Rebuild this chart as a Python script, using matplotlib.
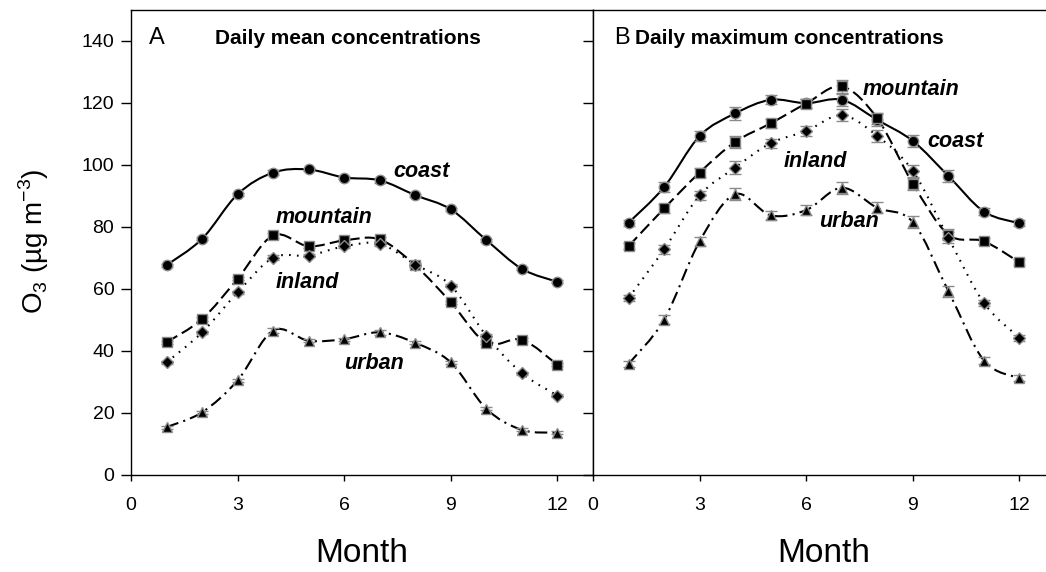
import numpy as np
import matplotlib
matplotlib.use('Agg')
import matplotlib.pyplot as plt
from matplotlib.path import Path
from matplotlib.patches import PathPatch

plt.rcParams['font.family'] = ['Liberation Sans', 'DejaVu Sans']
plt.rcParams['mathtext.fontset'] = 'custom'
plt.rcParams['mathtext.rm'] = 'Liberation Sans'

months = [1, 2, 3, 4, 5, 6, 7, 8, 9, 10, 11, 12]

# Panel A: daily mean concentrations
mean_coast = [67.6, 76.1, 90.5, 97.5, 98.5, 95.9, 95.0, 90.2, 85.6, 75.7, 66.4, 62.2]
mean_mountain = [42.7, 50.2, 63.2, 77.2, 73.7, 75.6, 75.9, 67.5, 55.6, 42.5, 43.5, 35.4]
mean_inland = [36.2, 45.9, 58.8, 70.0, 70.7, 73.7, 74.5, 67.8, 61.0, 44.8, 32.7, 25.5]
mean_urban = [15.3, 20.1, 30.4, 46.5, 43.2, 43.7, 45.9, 42.5, 36.2, 21.2, 14.4, 13.5]
mean_err = [0.5, 0.5, 0.5, 0.8, 0.5, 0.5, 0.8, 0.5, 0.5, 0.5, 0.5, 0.5]

# Panel B: daily maximum concentrations
max_coast = [81.3, 92.8, 109.3, 116.6, 121.0, 119.9, 121.0, 114.5, 107.7, 96.4, 84.9, 81.1]
max_mountain = [73.7, 85.9, 97.5, 107.4, 113.4, 119.8, 125.3, 115.0, 93.9, 77.5, 75.3, 68.5]
max_inland = [57.0, 72.7, 90.1, 99.1, 107.0, 110.9, 116.0, 109.3, 98.0, 76.4, 55.4, 44.1]
max_urban = [35.7, 50.0, 75.3, 90.5, 83.7, 85.4, 92.6, 86.1, 81.5, 59.2, 36.8, 31.1]
max_err = [1.0, 1.5, 1.5, 2.0, 1.5, 1.5, 2.0, 1.8, 2.0, 1.8, 1.0, 1.0]

series_names = ['coast', 'mountain', 'inland', 'urban']
x_ticks = [0, 3, 6, 9, 12]
y_ticks = [0, 20, 40, 60, 80, 100, 120, 140]

styles = {
    'coast': dict(marker='o', ms=7.5, ls='solid'),
    'mountain': dict(marker='s', ms=6.5, ls=(0, (6, 2.5))),
    'inland': dict(marker='D', ms=6.5, ls=(0, (0.8, 3.0))),
    'urban': dict(marker='^', ms=7.5, ls=(0, (6, 2.5, 1, 2.5))),
}


def smooth_path(x, y):
    pts = np.column_stack([x, y]).astype(float)
    ext = np.vstack([pts[0], pts, pts[-1]])
    verts = [tuple(pts[0])]
    codes = [Path.MOVETO]
    for i in range(len(pts) - 1):
        p0, p1, p2, p3 = ext[i], ext[i + 1], ext[i + 2], ext[i + 3]
        c1 = p1 + (p2 - p0) / 6.0
        c2 = p2 - (p3 - p1) / 6.0
        verts += [tuple(c1), tuple(c2), tuple(p2)]
        codes += [Path.CURVE4] * 3
    return Path(verts, codes)


def draw_series(ax, name, y, err):
    st = styles[name]
    patch = PathPatch(smooth_path(months, y), fill=False, edgecolor='black',
                      lw=1.5, linestyle=st['ls'], zorder=2)
    ax.add_patch(patch)
    ax.errorbar(months, y, yerr=err, fmt='none', ecolor='#8a8a8a',
                elinewidth=1.0, capsize=4, capthick=1.0, zorder=3)
    ax.plot(months, y, linestyle='none', marker=st['marker'], ms=st['ms'],
            mfc='black', mec='#8a8a8a', mew=1.0, zorder=4)


W, H = 1046, 572
fig = plt.figure(figsize=(W / 100, H / 100), dpi=100)

y0_px, ytop_px = 474.5, 10.0
bottom = (H - y0_px) / H
height = (y0_px - ytop_px) / H

axA = fig.add_axes([131 / W, bottom, (593 - 131) / W, height])
axB = fig.add_axes([593 / W, bottom, (W - 593) / W, height])

px_per_month = (593 - 131) / 13.0

for ax in (axA, axB):
    ax.set_ylim(0, 150)
    ax.set_yticks(y_ticks)
    ax.set_xticks(x_ticks)
    ax.tick_params(axis='x', direction='out', length=4, width=1, pad=12, labelsize=14)
    ax.tick_params(axis='y', direction='out', length=7, width=1, pad=5, labelsize=14)
    for sp in ax.spines.values():
        sp.set_linewidth(1.0)

axA.set_xlim(0, 13)
axB.set_xlim(0, (W - 593) / px_per_month)
axB.spines['right'].set_visible(False)
axB.set_yticklabels([])

draw_series(axA, 'coast', mean_coast, mean_err)
draw_series(axA, 'mountain', mean_mountain, mean_err)
draw_series(axA, 'inland', mean_inland, mean_err)
draw_series(axA, 'urban', mean_urban, mean_err)

draw_series(axB, 'coast', max_coast, max_err)
draw_series(axB, 'mountain', max_mountain, max_err)
draw_series(axB, 'inland', max_inland, max_err)
draw_series(axB, 'urban', max_urban, max_err)

lab = dict(fontsize=15.5, fontweight='bold', fontstyle='italic', ha='left', va='center')
axA.text(7.38, 97.9, 'coast', **lab)
axA.text(4.08, 83.0, 'mountain', **lab)
axA.text(4.08, 61.9, 'inland', **lab)
axA.text(5.99, 36.0, 'urban', **lab)

axB.text(7.58, 124.4, 'mountain', **lab)
axB.text(9.41, 107.4, 'coast', **lab)
axB.text(5.37, 101.2, 'inland', **lab)
axB.text(6.35, 81.8, 'urban', **lab)

axA.text(0.5, 141.0, 'A', fontsize=17, ha='left', va='center')
axA.text(2.35, 140.8, 'Daily mean concentrations', fontsize=15, fontweight='bold',
         ha='left', va='center')
axB.text(0.6, 141.0, 'B', fontsize=17, ha='left', va='center')
axB.text(1.17, 140.8, 'Daily maximum concentrations', fontsize=15, fontweight='bold',
         ha='left', va='center')

fig.text(362 / W, 1 - 554 / H, 'Month', fontsize=24, ha='center', va='center')
fig.text(824 / W, 1 - 554 / H, 'Month', fontsize=24, ha='center', va='center')
fig.text(34 / W, 1 - 241 / H, r'O$_\mathregular{3}$ (µg m$^\mathregular{-3}$)',
         fontsize=20, rotation=90, ha='center', va='center')

fig.savefig('out.png', dpi=100)
